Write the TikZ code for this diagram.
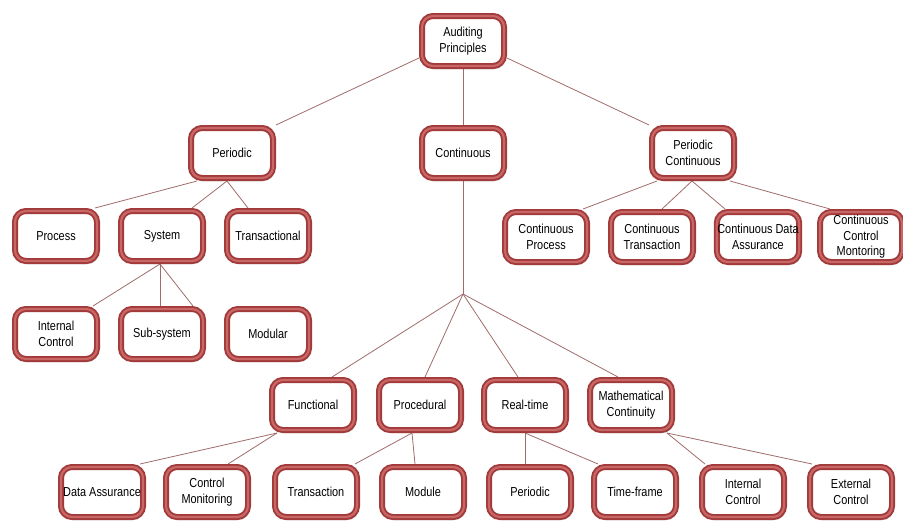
\documentclass[tikz,border=0pt]{standalone}
\usepackage{fontspec}
\setmainfont[FakeStretch=0.84]{Liberation Sans}
\usetikzlibrary{shadows,backgrounds}
\definecolor{bdark}{HTML}{A23A3A}
\definecolor{blight}{HTML}{C96666}
\definecolor{lnk}{HTML}{A06B6B}
\begin{document}
\begin{tikzpicture}[x=1pt,y=-1pt,
  box/.style={rectangle, rounded corners=11pt, draw=bdark, line width=6pt, fill=white,
    minimum width=82pt, minimum height=50pt, inner sep=0.5pt, align=center,
    font=\fontsize{13}{15.5}\selectfont,
    drop shadow={shadow xshift=1.5pt, shadow yshift=-3pt, fill=black!55, opacity=0.5},
    postaction={draw=blight, line width=2.2pt}},
  link/.style={draw=lnk, line width=0.8pt}]
\useasboundingbox (0,0) rectangle (903,525);
% level 0
\node[box] (ap) at (463,41) {Auditing\\Principles};
% level 1
\node[box] (per) at (232,153) {Periodic};
\node[box] (con) at (463,153) {Continuous};
\node[box] (pc) at (693,153) {Periodic\\Continuous};
% level 2
\node[box] (proc) at (56,236) {Process};
\node[box] (sys) at (162,236) {System};
\node[box] (trans) at (268,236) {Transactional};
\node[box] (cp) at (546,237) {Continuous\\Process};
\node[box] (ct) at (652,237) {Continuous\\Transaction};
\node[box] (cda) at (758,237) {Continuous Data\\Assurance};
\node[box] (ccm) at (861,237) {Continuous\\Control\\Montoring};
% level 3
\node[box] (ic) at (56,334) {Internal\\Control};
\node[box] (sub) at (162,334) {Sub-system};
\node[box] (mod) at (268,334) {Modular};
\node[box] (fun) at (313,405) {Functional};
\node[box] (pro) at (420,405) {Procedural};
\node[box] (rt) at (525,405) {Real-time};
\node[box] (mc) at (631,405) {Mathematical\\Continuity};
% level 4
\node[box] (da) at (102,492) {Data Assurance};
\node[box] (cm) at (207,492) {Control\\Monitoring};
\node[box] (tr) at (316,492) {Transaction};
\node[box] (mo) at (423,492) {Module};
\node[box] (pe) at (530,492) {Periodic};
\node[box] (tf) at (635,492) {Time-frame};
\node[box] (ic2) at (743,492) {Internal\\Control};
\node[box] (ec) at (851,492) {External\\Control};
\coordinate (j) at (463,294);
\begin{pgfonlayer}{background}
\path[link] ([yshift=-17pt]ap.west) -- (per.north east);
\path[link] (ap.south) -- (con.north);
\path[link] ([yshift=-17pt]ap.east) -- (pc.north west);
\path[link] ([xshift=-35pt]per.south) -- ([xshift=39pt]proc.north);
\path[link] ([xshift=-5pt]per.south) -- ([xshift=30pt]sys.north);
\path[link] ([xshift=-5pt]per.south) -- ([xshift=-20pt]trans.north);
\path[link] ([xshift=-36pt]pc.south) -- ([xshift=37pt]cp.north);
\path[link] ([xshift=-1pt]pc.south) -- ([xshift=10pt]ct.north);
\path[link] ([xshift=-1pt]pc.south) -- ([xshift=-33pt]cda.north);
\path[link] ([xshift=37pt]pc.south) -- ([xshift=-31pt]ccm.north);
\path[link] ([xshift=-2pt]sys.south) -- ([xshift=37pt]ic.north);
\path[link] ([xshift=-2pt]sys.south) -- ([xshift=-2pt]sub.north);
\path[link] ([xshift=-2pt]sys.south) -- ([xshift=31pt]sub.north);
\path[link] (con.south) -- (j);
\path[link] (j) -- ([xshift=19pt]fun.north);
\path[link] (j) -- ([xshift=5pt]pro.north);
\path[link] (j) -- ([xshift=-7pt]rt.north);
\path[link] (j) -- ([xshift=-13pt]mc.north);
\path[link] ([xshift=-36pt]fun.south) -- ([xshift=38pt]da.north);
\path[link] ([xshift=-36pt]fun.south) -- ([xshift=21pt]cm.north);
\path[link] ([xshift=-8pt]pro.south) -- ([xshift=39pt]tr.north);
\path[link] ([xshift=-8pt]pro.south) -- ([xshift=-8pt]mo.north);
\path[link] (rt.south) -- ([xshift=-5pt]pe.north);
\path[link] (rt.south) -- ([xshift=-37pt]tf.north);
\path[link] ([xshift=36pt]mc.south) -- ([xshift=-38pt]ic2.north);
\path[link] ([xshift=36pt]mc.south) -- ([xshift=-39pt]ec.north);
\end{pgfonlayer}
\end{tikzpicture}
\end{document}
